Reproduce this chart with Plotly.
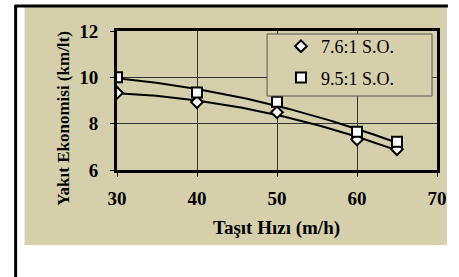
import numpy as np
import plotly.graph_objects as go

speed = [30, 40, 50, 60, 65]
so_76 = [9.33, 8.93, 8.49, 7.32, 6.90]
so_95 = [10.0, 9.35, 8.95, 7.65, 7.22]
x_ticks = [30, 40, 50, 60, 70]
y_ticks = [6, 8, 10, 12]
names = ["7.6:1 S.O.", "9.5:1 S.O."]

BEIGE = "#D6CFAB"
SERIF = "Liberation Serif, Times New Roman, serif"

W, H = 459, 277
PL, PR, PT, PB = 117, 439, 31, 170          # plot area in window pixels
L, T, R, B = PL, PT, W - PR, H - PB
PW, PH = PR - PL, PB - PT

def px(x):
    return (x - PL) / PW

def py(y):
    return (PB - y) / PH

# polynomial (2nd order) trend lines, as in the source chart
xs = np.linspace(min(speed), max(speed), 80)
trend_76 = np.polyval(np.polyfit(speed, so_76, 2), xs)
trend_95 = np.polyval(np.polyfit(speed, so_95, 2), xs)

fig = go.Figure()
for tr in (trend_76, trend_95):
    fig.add_trace(go.Scatter(x=xs, y=tr, mode="lines", showlegend=False,
                             line=dict(color="black", width=2), hoverinfo="skip"))
fig.add_trace(go.Scatter(
    x=speed, y=so_76, name=names[0], mode="markers",
    marker=dict(symbol="diamond", size=9, color="white", line=dict(color="black", width=2)),
    legendgroup="a",
))
fig.add_trace(go.Scatter(
    x=speed, y=so_95, name=names[1], mode="markers",
    marker=dict(symbol="square", size=10, color="white", line=dict(color="black", width=2)),
    legendgroup="b",
))

shapes = [
    dict(type="rect", xref="paper", yref="paper", x0=px(24), x1=px(449), y0=py(245), y1=py(7),
         fillcolor=BEIGE, line=dict(width=0), layer="below"),
    dict(type="line", xref="paper", yref="paper", x0=px(15), x1=px(15), y0=py(5), y1=py(290),
         line=dict(color="black", width=3)),
    dict(type="line", xref="paper", yref="paper", x0=px(14), x1=px(450), y0=py(6), y1=py(6),
         line=dict(color="black", width=3)),
    dict(type="rect", xref="paper", yref="paper", x0=px(268), x1=px(434), y0=py(96), y1=py(34),
         fillcolor=BEIGE, line=dict(color="#555555", width=1)),
]

annotations = [
    dict(text="<b>Taşıt Hızı (m/h)</b>", xref="paper", yref="paper", x=px(277), y=py(228),
         showarrow=False, font=dict(family=SERIF, size=19, color="black"),
         xanchor="center", yanchor="middle"),
    dict(text="<b>Yakıt Ekonomisi (km/lt)</b>", xref="paper", yref="paper", x=px(63), y=py(118.5),
         showarrow=False, textangle=-90, font=dict(family=SERIF, size=17, color="black"),
         xanchor="center", yanchor="middle"),
]

axis_common = dict(
    showline=True, linecolor="black", linewidth=3, mirror=True,
    showgrid=True, gridcolor="#333333", gridwidth=1,
    ticks="outside", ticklen=4, tickcolor="black", tickwidth=1,
    tickfont=dict(family=SERIF, size=19, color="black"),
    zeroline=False,
)

fig.update_layout(
    width=W, height=H,
    margin=dict(l=L, r=R, t=T, b=B),
    paper_bgcolor="white", plot_bgcolor=BEIGE,
    shapes=shapes, annotations=annotations,
    xaxis=dict(range=[30, 70], tickvals=x_ticks, ticktext=[f"<b>{v}</b>" for v in x_ticks],
               ticklabelstandoff=5, **axis_common),
    yaxis=dict(range=[6, 12], tickvals=y_ticks, ticktext=[f"<b>{v}</b>" for v in y_ticks],
               ticklabelstandoff=8, **axis_common),
    showlegend=True,
    legend=dict(x=px(282), y=py(28), xanchor="left", yanchor="top",
                bgcolor="rgba(0,0,0,0)", borderwidth=0,
                font=dict(family=SERIF, size=18, color="black"),
                traceorder="grouped", tracegroupgap=5),
)

fig.write_html("out.html", config={"displayModeBar": False},
               post_script="document.body.style.margin='0';")
